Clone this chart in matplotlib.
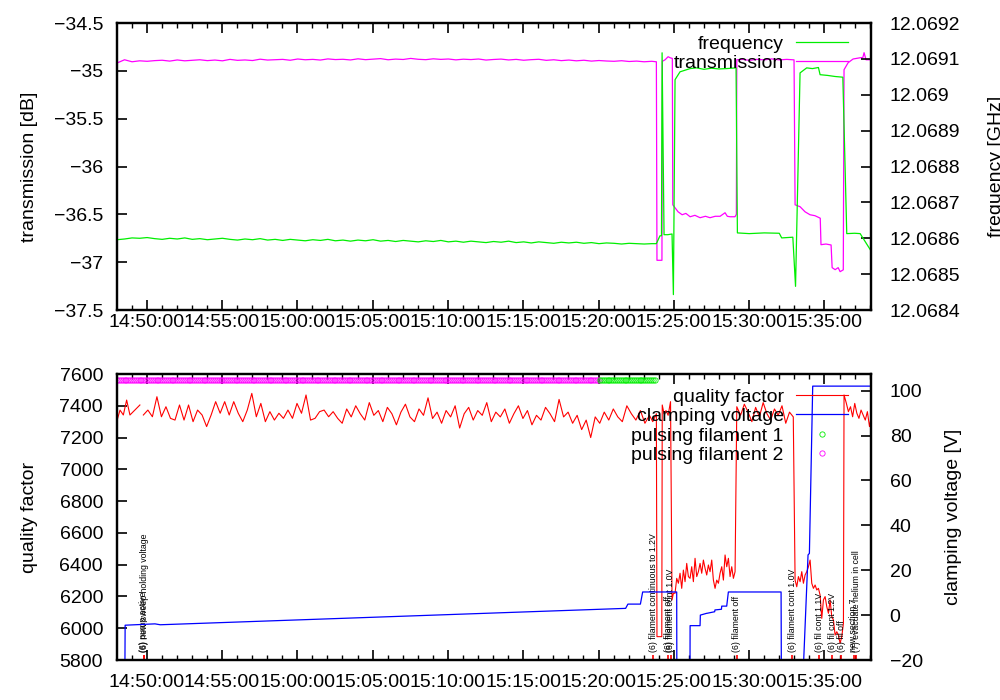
import numpy as np
import pandas as pd
import matplotlib
matplotlib.use("Agg")
import matplotlib.pyplot as plt
import matplotlib.dates as mdates
from matplotlib.ticker import FixedLocator, FuncFormatter

plt.rcParams['font.family'] = ['Liberation Sans', 'DejaVu Sans']
plt.rcParams['font.size'] = 14

# time is kept in minutes after 14:50:00 (date is not shown on the chart)
T0 = pd.Timestamp("2010-01-01 14:50:00")


def when(minutes):
    return mdates.date2num(T0 + pd.to_timedelta(np.asarray(minutes, dtype=float), unit="min"))


# ---------------- top panel: transmission [dB] + frequency [GHz] ----------------
flat_start, flat_step = -1.97, 0.5
trans_flat = [
    -34.918, -34.884, -34.905, -34.895, -34.900, -34.893, -34.889, -34.898, -34.886, -34.895,
    -34.890, -34.884, -34.893, -34.887, -34.895, -34.880, -34.890, -34.886, -34.892, -34.878,
    -34.887, -34.883, -34.880, -34.889, -34.876, -34.884, -34.880, -34.887, -34.875, -34.882,
    -34.879, -34.886, -34.874, -34.883, -34.878, -34.872, -34.884, -34.877, -34.881, -34.870,
    -34.879, -34.883, -34.874, -34.880, -34.876, -34.885, -34.878, -34.882, -34.876, -34.887,
    -34.881, -34.877, -34.886, -34.880, -34.889, -34.883, -34.879, -34.890, -34.884, -34.893,
    -34.887, -34.895, -34.889, -34.898, -34.892, -34.897, -34.900, -34.894, -34.902, -34.898,
    -34.905, -34.900]
trans_evt_t = [33.84, 33.88, 34.21, 34.24, 34.42, 34.62, 34.75, 34.90, 34.93, 35.08, 35.28, 35.55,
               35.80, 36.08, 36.40, 36.74, 37.10, 37.40, 37.75, 38.07, 38.40, 38.55, 38.73, 39.06,
               39.15, 39.18, 39.60, 40.00, 40.50, 41.00, 41.50, 42.00, 42.50, 42.98, 43.05, 43.38,
               43.71, 44.04, 44.37, 44.64, 44.72, 44.77, 45.10, 45.44, 45.51, 45.71, 45.91, 46.04,
               46.17, 46.25, 46.30, 46.57, 46.90, 47.37, 47.55, 47.63, 47.76, 48.09]
trans_evt_v = [-34.905, -36.98, -36.98, -34.90, -34.884, -34.852, -34.863, -34.87, -36.40, -36.431,
               -36.473, -36.504, -36.49, -36.525, -36.51, -36.535, -36.52, -36.535, -36.52, -36.52,
               -36.483, -36.52, -36.525, -36.525, -36.50, -34.884, -34.88, -34.89, -34.88, -34.885,
               -34.875, -34.885, -34.88, -34.885, -36.40, -36.42, -36.473, -36.504, -36.514, -36.535,
               -36.54, -36.817, -36.81, -36.82, -37.057, -37.078, -37.057, -37.099, -37.088, -37.08,
               -34.988, -34.915, -34.876, -34.863, -34.86, -34.81, -34.884, -34.884]

freq_flat = [
    12.068596, 12.068598, 12.068601, 12.068600, 12.068602, 12.068599, 12.068597, 12.068600, 12.068598, 12.068601,
    12.068597, 12.068599, 12.068596, 12.068598, 12.068600, 12.068597, 12.068595, 12.068598, 12.068596, 12.068599,
    12.068595, 12.068597, 12.068594, 12.068597, 12.068595, 12.068593, 12.068596, 12.068594, 12.068597, 12.068593,
    12.068595, 12.068592, 12.068595, 12.068593, 12.068596, 12.068592, 12.068594, 12.068591, 12.068594, 12.068592,
    12.068590, 12.068593, 12.068591, 12.068594, 12.068590, 12.068592, 12.068589, 12.068592, 12.068590, 12.068588,
    12.068591, 12.068589, 12.068592, 12.068588, 12.068590, 12.068587, 12.068590, 12.068588, 12.068586, 12.068589,
    12.068587, 12.068589, 12.068586, 12.068588, 12.068585, 12.068587, 12.068586, 12.068584, 12.068586, 12.068585,
    12.068584, 12.068585]
freq_evt_t = [33.84, 34.08, 34.18, 34.22, 34.35, 34.60, 34.88, 34.97, 35.08, 35.41, 36.08, 36.50,
              37.00, 37.50, 38.00, 38.50, 39.13, 39.22, 40.00, 41.00, 42.00, 42.16, 42.90, 43.08,
              43.38, 43.82, 44.20, 44.60, 44.71, 45.20, 45.70, 46.22, 46.48, 47.00, 47.37, 48.09]
freq_evt_v = [12.068585, 12.068607, 12.068607, 12.069117, 12.068610, 12.068610, 12.068612, 12.068443,
              12.069042, 12.069064, 12.069073, 12.069075, 12.069071, 12.069074, 12.069072, 12.069073,
              12.069075, 12.068615, 12.068613, 12.068615, 12.068614, 12.068601, 12.068603, 12.068466,
              12.069061, 12.069075, 12.069073, 12.069076, 12.069056, 12.069054, 12.069051, 12.069049,
              12.068613, 12.068614, 12.068613, 12.068565]

# ---------------- bottom panel: quality factor + clamping voltage ----------------
q_a_start, q_a_step = -1.99, 0.22
q_a = [7300, 7373, 7342, 7436, 7342, 7363, 7384, 7405]
q_b_start, q_b_step = -0.22, 0.30
q_b = [7342, 7373, 7331, 7457, 7331, 7394, 7321, 7310, 7405, 7310,
       7405, 7300, 7373, 7342, 7269, 7342, 7426, 7353, 7426, 7342,
       7426, 7353, 7300, 7373, 7478, 7331, 7415, 7300, 7363, 7310,
       7353, 7321, 7373, 7321, 7415, 7353, 7468, 7310, 7321, 7363,
       7373, 7331, 7363, 7321, 7290,
       7380, 7330, 7400, 7350, 7310, 7420, 7340, 7370, 7300, 7390,
       7350, 7280, 7360, 7410, 7330, 7300, 7380, 7340, 7450, 7320,
       7360, 7290, 7370, 7330, 7400, 7260, 7350, 7390, 7310, 7370,
       7340, 7420, 7300, 7360, 7330, 7380, 7290, 7350, 7400, 7320,
       7370, 7280, 7340, 7310, 7390, 7350, 7300, 7440, 7330, 7360,
       7290, 7340, 7250, 7310, 7200, 7330, 7290, 7360, 7310, 7380,
       7330, 7300, 7400, 7350, 7310, 7370, 7290, 7340]
q_c_start, q_c_step = 35.08, 0.1107
q_c = [6220, 6314, 6283, 6346, 6251, 6366, 6293, 6408, 6325, 6314,
       6387, 6293, 6440, 6325, 6356, 6408, 6346, 6429, 6377, 6335,
       6398, 6356, 6429, 6303, 6251, 6303, 6283, 6346, 6387, 6303,
       6461, 6387, 6440, 6325, 6387, 6314, 6356]
q_d_start, q_d_step = 39.18, 0.25
q_d = [7394, 7340, 7410, 7360, 7300, 7390, 7330, 7420, 7350, 7310, 7380, 7340, 7400, 7290, 7360, 7330]
q_e_start, q_e_step = 43.05, 0.1107
q_e = [6303, 6261, 6325, 6293, 6356, 6283, 6335, 6356, 6387, 6429,
       6283, 6251, 6272, 6241, 6251, 6209, 6062, 6178, 6199, 6136,
       6094, 6178, 6073, 6052, 5957, 5978, 5957, 5905, 5947, 6031]
q_f_start, q_f_step = 46.45, 0.14
q_f = [7417, 7363, 7394, 7331, 7415, 7353, 7321, 7373, 7342, 7310, 7363, 7269, 7342]
q_evt_t = [-0.33, 33.60, 33.84, 33.88, 34.20, 34.23, 34.35, 34.48, 34.62, 34.78, 34.88, 34.97, 46.30]
q_evt_v = [np.nan, 7300, 7350, 5947, 5947, 7405, 7350, 7370, 7340, 7426, 6178, 6220, 7468]

clamp_t = [-1.45, -1.43, 0.55, 0.90, 31.80, 31.95, 32.78, 32.93, 35.19, 35.20, 36.07, 36.08,
           36.74, 36.76, 37.18, 37.20, 37.71, 37.73, 38.16, 38.18, 38.51, 38.62, 42.12, 42.14,
           43.56, 43.91, 44.00, 44.22, 48.09]
clamp_v = [-30, -4.5, -3.9, -4.3, 3.0, 4.9, 4.9, 10.3, 10.3, -30, -30, -4.7,
           -4.7, 0.0, 0.8, 0.8, 1.5, 2.3, 2.6, 4.0, 4.0, 10.3, 10.3, -30,
           -30, 26.8, 27.5, 102, 102]

pulse_level = 7560
fil2_on = (-1.97, 30.10)
fil1_on = (30.10, 33.75)
pulse_step = 1 / 8

event_t = [-0.18, -0.16, 33.64, 34.64, 34.80, 39.18, 42.85, 44.64, 45.51, 46.10, 46.95, 47.12]
event_text = ["(6) pump active", "(6) new sweep holding voltage",
              "(6) filament continuous to 1.2V", "(6) filament off", "(6) filament cont 1.0V",
              "(6) filament off", "(6) filament cont 1.0V", "(6) fil cont 1.1V",
              "(6) fil cont 1.2V", "(6) fil off", "new section 7", "(7) evacuate helium in cell"]


def segment(start, step, vals):
    return list(start + step * np.arange(len(vals))), list(vals)


# assemble series
t_tr = list(flat_start + flat_step * np.arange(len(trans_flat))) + trans_evt_t
v_tr = trans_flat + trans_evt_v
t_fr = list(flat_start + flat_step * np.arange(len(freq_flat))) + freq_evt_t
v_fr = freq_flat + freq_evt_v

q_t, q_v = list(q_evt_t), list(q_evt_v)
for s, st, vals in [(q_a_start, q_a_step, q_a), (q_b_start, q_b_step, q_b), (q_c_start, q_c_step, q_c),
                    (q_d_start, q_d_step, q_d), (q_e_start, q_e_step, q_e), (q_f_start, q_f_step, q_f)]:
    tt, vv = segment(s, st, vals)
    q_t += tt
    q_v += vv
order = np.argsort(q_t)
q_t = np.array(q_t)[order]
q_v = np.array(q_v)[order]

fil2_t = np.arange(fil2_on[0], fil2_on[1], pulse_step)
fil1_t = np.arange(fil1_on[0], fil1_on[1], pulse_step)

# ---------------- figure ----------------
fig = plt.figure(figsize=(10, 7), dpi=100)
ax1 = fig.add_axes([0.117, 0.5571, 0.754, 0.41])
ax1r = ax1.twinx()
ax2 = fig.add_axes([0.117, 0.05714, 0.754, 0.40857])
ax2r = ax2.twinx()

MAG, GRN, RED, BLU = "#ff00ff", "#00ee00", "#ff0000", "#0000ff"

l_tr, = ax1.plot(when(t_tr), v_tr, color=MAG, lw=0.9, label="transmission")
l_fr, = ax1r.plot(when(t_fr), v_fr, color=GRN, lw=0.9, label="frequency")

l_q, = ax2.plot(when(q_t), q_v, color=RED, lw=0.8, label="quality factor")
p2, = ax2.plot(when(fil2_t), np.full(len(fil2_t), pulse_level), ls="none", marker="o", ms=3.8,
               mfc="none", mec=MAG, mew=0.6, label="pulsing filament 2")
p1, = ax2.plot(when(fil1_t), np.full(len(fil1_t), pulse_level), ls="none", marker="o", ms=3.8,
               mfc="none", mec=GRN, mew=0.6, label="pulsing filament 1")
l_c, = ax2r.plot(when(clamp_t), clamp_v, color=BLU, lw=0.9, label="clamping voltage")

ax2.plot(when(event_t), np.full(len(event_t), 5812), ls="none", marker="|", ms=5, mew=1.2, color=RED)
for t, s in zip(event_t, event_text):
    ax2.text(when(t), 5852, s, rotation=90, fontsize=6.3, ha="center", va="bottom")

# limits
xlo, xhi = when(-1.97), when(48.09)
for ax in (ax1, ax2):
    ax.set_xlim(xlo, xhi)
ax1.set_ylim(-37.5, -34.5)
ax1r.set_ylim(12.0684, 12.0692)
ax2.set_ylim(5800, 7600)
ax2r.set_ylim(-20, 107.4)


def gfmt(v, pos):
    return f"{v:g}".replace("-", "\u2212")


ax1.yaxis.set_major_locator(FixedLocator(np.arange(-37.5, -34.4, 0.5)))
ax1r.yaxis.set_major_locator(FixedLocator(np.arange(12.0684, 12.06925, 0.0001)))
ax2.yaxis.set_major_locator(FixedLocator(np.arange(5800, 7601, 200)))
ax2r.yaxis.set_major_locator(FixedLocator(np.arange(-20, 101, 20)))
for ax in (ax1, ax1r, ax2, ax2r):
    ax.yaxis.set_major_formatter(FuncFormatter(gfmt))

for ax, xpad in ((ax1, 2.5), (ax2, 10)):
    ax.xaxis.set_major_locator(mdates.MinuteLocator(byminute=range(0, 60, 5)))
    ax.xaxis.set_minor_locator(mdates.MinuteLocator())
    ax.xaxis.set_major_formatter(mdates.DateFormatter("%H:%M:%S"))
    ax.tick_params(axis="x", which="both", direction="in", top=True, bottom=True, pad=xpad)
    ax.tick_params(axis="x", which="major", length=7, width=1.2)
    ax.tick_params(axis="x", which="minor", length=3.8, width=1.0)
    ax.tick_params(axis="y", which="major", direction="in", length=7, width=1.2, left=True,
                   right=False, pad=10)
for ax in (ax1r, ax2r):
    ax.tick_params(axis="y", which="major", direction="in", length=7, width=1.2, right=True,
                   left=False, pad=13.5)
    ax.tick_params(axis="x", which="both", top=False, bottom=False)
for ax in (ax1, ax1r, ax2, ax2r):
    for sp in ax.spines.values():
        sp.set_linewidth(1.6)

ax1.set_ylabel("transmission [dB]")
ax1.yaxis.set_label_coords(-0.105, 0.5)
ax1r.set_ylabel("frequency [GHz]")
ax1r.yaxis.set_label_coords(1.155, 0.5)
ax2.set_ylabel("quality factor")
ax2.yaxis.set_label_coords(-0.105, 0.5)
ax2r.set_ylabel("clamping voltage [V]")
ax2r.yaxis.set_label_coords(1.098, 0.5)

leg_kw = dict(loc="upper right", frameon=False, markerfirst=False, handlelength=2.7,
              handletextpad=0.6, borderaxespad=0, borderpad=0, numpoints=1)
ax1r.legend([l_fr, l_tr], ["frequency", "transmission"], bbox_to_anchor=(0.9695, 0.957),
            labelspacing=0.05, **leg_kw)
ax2r.legend([l_q, l_c, p1, p2], ["quality factor", "clamping voltage", "pulsing filament 1",
                                 "pulsing filament 2"], bbox_to_anchor=(0.9695, 0.950),
            labelspacing=0.09, **leg_kw)

fig.savefig("out.png", dpi=100)
